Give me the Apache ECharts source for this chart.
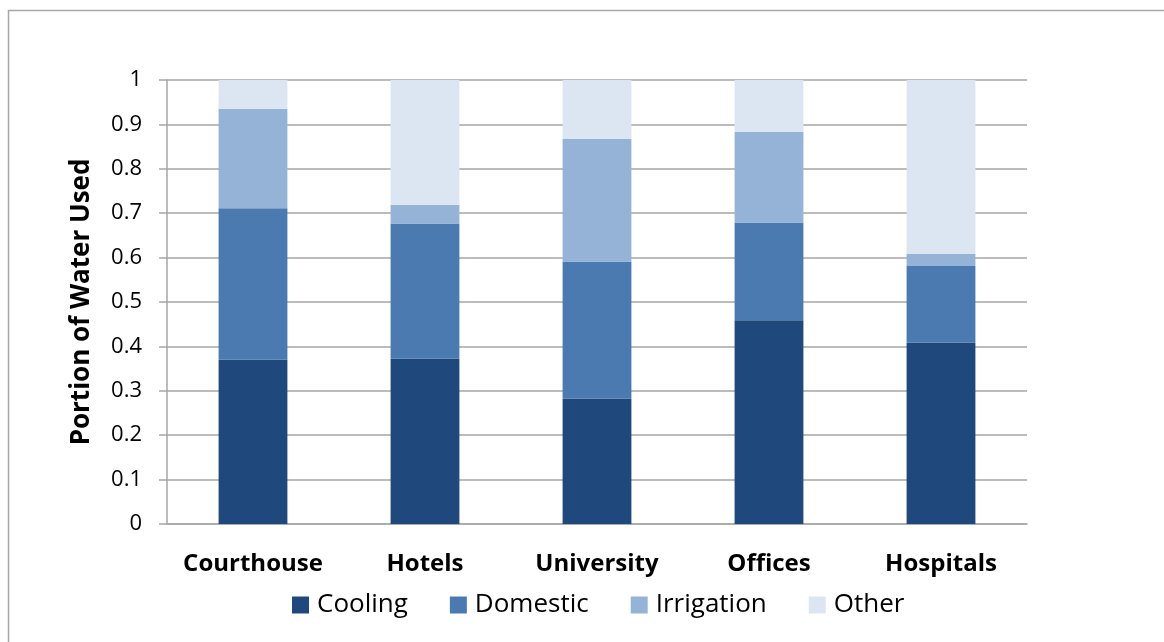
<!DOCTYPE html>
<html>
<head>
<meta charset="utf-8">
<script src="https://cdn.jsdelivr.net/npm/echarts@6/dist/echarts.min.js"></script>
<style>
  html, body { margin: 0; padding: 0; background: #fff; }
  #chart { width: 1164px; height: 642px; }
</style>
</head>
<body>
<div id="chart"></div>
<script>
// 数据
const categories = ["Courthouse", "Hotels", "University", "Offices", "Hospitals"];
const cooling = [0.370, 0.372, 0.282, 0.459, 0.409];
const domestic = [0.341, 0.305, 0.309, 0.220, 0.172];
const irrigation = [0.224, 0.042, 0.276, 0.204, 0.027];
const other = [0.065, 0.281, 0.133, 0.117, 0.392];

const font = "Open Sans";
const gridColor = "#a6a6a6";

function bar(name, data, color) {
  return {
    name: name,
    type: "bar",
    stack: "total",
    barWidth: "40%",
    data: data,
    itemStyle: { color: color },
    emphasis: { disabled: true }
  };
}

let mychart = echarts.init(document.getElementById("chart"));
mychart.setOption({
  animation: false,
  // 外框
  graphic: [
    {
      type: "rect",
      shape: { x: 8.5, y: 10.5, width: 1300, height: 800 },
      style: { fill: "none", stroke: gridColor, lineWidth: 1.5 }
    }
  ],
  grid: { left: 167, right: 137, top: 80, bottom: 118 },
  legend: {
    bottom: 19,
    left: 287,
    itemWidth: 17,
    itemHeight: 17,
    itemGap: 42,
    icon: "rect",
    textStyle: { fontFamily: font, fontSize: 26, color: "#000", padding: [0, 0, 0, 3] },
    data: ["Cooling", "Domestic", "Irrigation", "Other"]
  },
  xAxis: {
    type: "category",
    data: categories,
    axisLine: { lineStyle: { color: gridColor, width: 1.5 } },
    axisTick: { length: 8, lineStyle: { color: gridColor, width: 1.5 } },
    axisLabel: {
      interval: 0,
      margin: 28,
      fontFamily: font,
      fontWeight: "bold",
      fontSize: 24,
      color: "#000"
    }
  },
  yAxis: {
    type: "value",
    min: 0,
    max: 1,
    interval: 0.1,
    name: "Portion of Water Used",
    nameLocation: "middle",
    nameGap: 72,
    nameTextStyle: { fontFamily: font, fontWeight: "bold", fontSize: 26, color: "#000" },
    axisLine: { show: true, lineStyle: { color: gridColor, width: 1.5 } },
    axisTick: { show: true, inside: false, length: 8, lineStyle: { color: gridColor, width: 1.5 } },
    splitLine: { lineStyle: { color: gridColor, width: 1.5 } },
    axisLabel: {
      margin: 25,
      fontFamily: font,
      fontSize: 22,
      color: "#000",
      formatter: function (v) { return String(Math.round(v * 10) / 10); }
    }
  },
  series: [
    bar("Cooling", cooling, "#1f497d"),
    bar("Domestic", domestic, "#4a7ab0"),
    bar("Irrigation", irrigation, "#95b3d7"),
    bar("Other", other, "#dce6f2")
  ]
});
</script>
</body>
</html>
